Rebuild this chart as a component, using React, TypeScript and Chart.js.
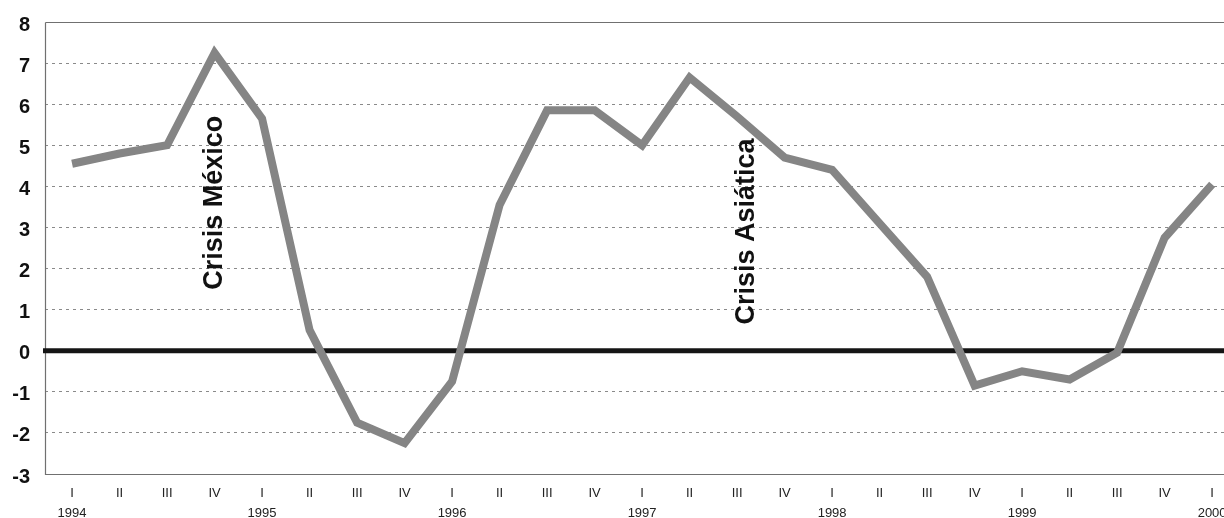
import React, { useEffect, useRef } from "react";
import { Chart, registerables } from "chart.js";

Chart.register(...registerables);

// Quarters from 1994-I to 2000-I
const quarterLabels = [
  "I", "II", "III", "IV",
  "I", "II", "III", "IV",
  "I", "II", "III", "IV",
  "I", "II", "III", "IV",
  "I", "II", "III", "IV",
  "I", "II", "III", "IV",
  "I",
];
const yearLabels = [
  "1994", "", "", "",
  "1995", "", "", "",
  "1996", "", "", "",
  "1997", "", "", "",
  "1998", "", "", "",
  "1999", "", "", "",
  "2000",
];
const growth = [
  4.55, 4.8, 5.0, 7.25,
  5.65, 0.5, -1.75, -2.25,
  -0.75, 3.55, 5.85, 5.85,
  5.0, 6.65, 5.7, 4.7,
  4.4, 3.1, 1.8, -0.85,
  -0.5, -0.7, -0.05, 2.75,
  4.05,
];
const yMin = -3;
const yMax = 8;
const yStep = 1;
const annotationTexts = ["Crisis México", "Crisis Asiática"];
const annotationAt = [
  { x: 3.0, y: 3.6 },
  { x: 14.2, y: 2.9 },
];

const FONT = '"Liberation Sans", Arial, sans-serif';

const framePlugin = {
  id: "frame",
  beforeDatasetsDraw(chart: any) {
    const { ctx, chartArea: a, scales } = chart;
    const y = scales.y;
    ctx.save();
    ctx.strokeStyle = "#707070";
    ctx.lineWidth = 1.2;
    ctx.beginPath();
    const top = Math.round(y.getPixelForValue(yMax)) + 0.5;
    const bot = Math.round(y.getPixelForValue(yMin)) + 0.5;
    ctx.moveTo(a.left + 0.5, top);
    ctx.lineTo(a.right, top);
    ctx.moveTo(a.left + 0.5, top);
    ctx.lineTo(a.left + 0.5, bot);
    ctx.lineTo(a.right, bot);
    ctx.stroke();
    const y0 = y.getPixelForValue(0);
    ctx.strokeStyle = "#151515";
    ctx.lineWidth = 5;
    ctx.beginPath();
    ctx.moveTo(a.left - 2, y0);
    ctx.lineTo(a.right, y0);
    ctx.stroke();
    ctx.restore();
  },
  afterDatasetsDraw(chart: any) {
    const { ctx, scales } = chart;
    ctx.save();
    ctx.fillStyle = "#111";
    ctx.font = `bold 27px ${FONT}`;
    ctx.textAlign = "center";
    ctx.textBaseline = "middle";
    annotationTexts.forEach((t, i) => {
      const px = scales.x.getPixelForValue(annotationAt[i].x);
      const py = scales.y.getPixelForValue(annotationAt[i].y);
      ctx.save();
      ctx.translate(px, py);
      ctx.rotate(-Math.PI / 2);
      ctx.fillText(t, 0, 0);
      ctx.restore();
    });
    ctx.restore();
  },
};

export default function App() {
  const ref = useRef<HTMLCanvasElement | null>(null);

  useEffect(() => {
    document.body.style.margin = "0";
    document.body.style.background = "#fff";
    const canvas = ref.current;
    if (!canvas) return;
    const chart = new Chart(canvas, {
      type: "line",
      data: {
        datasets: [
          {
            data: growth.map((v, i) => ({ x: i, y: v })),
            borderColor: "#858585",
            borderWidth: 8,
            borderJoinStyle: "miter",
            pointRadius: 0,
            tension: 0,
            fill: false,
          },
        ],
      },
      options: {
        animation: false,
        responsive: false,
        maintainAspectRatio: false,
        layout: { padding: { top: 22, right: 0, bottom: 0, left: 0 } },
        plugins: {
          legend: { display: false },
          tooltip: { enabled: false },
        },
        scales: {
          x: {
            type: "linear",
            min: -0.57,
            max: 24.25,
            grid: { display: false, drawTicks: false },
            border: { display: false },
            afterBuildTicks: (scale: any) => {
              scale.ticks = quarterLabels.map((_, i) => ({ value: i }));
            },
            afterFit: (scale: any) => {
              scale.height = 44;
              scale.paddingLeft = 0;
              scale.paddingRight = 0;
            },
            ticks: {
              autoSkip: false,
              maxRotation: 0,
              minRotation: 0,
              padding: 9,
              color: "#222",
              font: { family: FONT, size: 13, lineHeight: 1.55 },
              callback: (value: any) => {
                const i = Math.round(Number(value));
                return [quarterLabels[i] ?? "", yearLabels[i] ?? ""];
              },
            },
          },
          y: {
            min: yMin,
            max: yMax,
            afterFit: (scale: any) => {
              scale.width = 45;
              scale.paddingTop = 0;
              scale.paddingBottom = 0;
            },
            ticks: {
              stepSize: yStep,
              padding: 15,
              labelOffset: 3,
              color: "#111",
              font: { family: FONT, size: 20, weight: "bold" },
            },
            grid: {
              drawTicks: false,
              lineWidth: 1,
              color: (c: any) =>
                c.tick && (c.tick.value === 0 || c.tick.value === yMax || c.tick.value === yMin)
                  ? "rgba(0,0,0,0)"
                  : "#8a8a8a",
            },
            border: { display: false, dash: [3, 4] },
          },
        },
      },
      plugins: [framePlugin],
    });
    return () => chart.destroy();
  }, []);

  return (
    <div style={{ width: 1224, height: 518, background: "#fff" }}>
      <canvas ref={ref} width={1224} height={518} style={{ display: "block" }} />
    </div>
  );
}
